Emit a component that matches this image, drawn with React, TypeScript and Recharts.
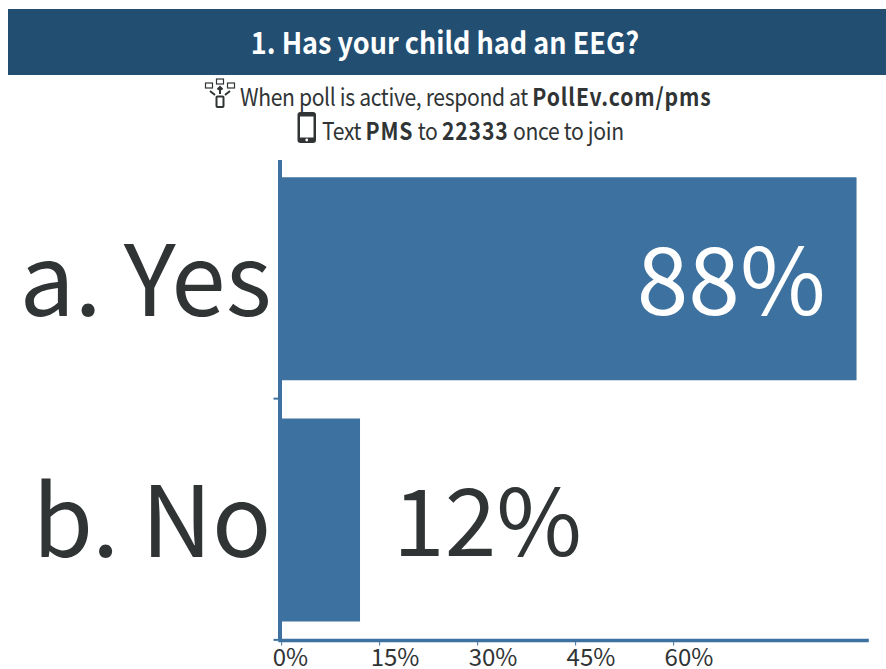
import { Bar, BarChart, LabelList, XAxis, YAxis } from "recharts";

const AXIS_BLUE = "#3d72a0";
const HEADER_BLUE = "#224e72";
const INK = "#303435";
const FONT = '"Noto Sans CJK SC", "Noto Sans", sans-serif';

const answers = ["a. Yes", "b. No"];
const shares = [88, 12];
const percentTicks = [0, 15, 30, 45, 60];

const rows = answers.map((answer, i) => ({ answer, share: shares[i] }));

const BAND = 240;

function AnswerTick({ x, y, payload }: any) {
  return (
    <g>
      <line x1={x - 2} x2={x - 6.5} y1={y + BAND / 2} y2={y + BAND / 2} stroke={AXIS_BLUE} strokeWidth={2} />
      <text x={271.5} y={y + 37} textAnchor="end" fontFamily={FONT} fontSize={98} fill={INK}>
        {payload.value}
      </text>
    </g>
  );
}

function PercentTick({ x, y, payload }: any) {
  return (
    <text x={x - 9} y={y + 18} textAnchor="start" fontFamily={FONT} fontSize={24} fill={INK}>
      {payload.value}%
    </text>
  );
}

// Big share figure: inside the bar when it fits, otherwise just past its end
function ShareLabel({ x, y, width, height, value }: any) {
  const inside = value > 50;
  return (
    <text
      x={inside ? x + width - 31 : x + width + 33}
      y={y + height / 2 + 36}
      textAnchor={inside ? "end" : "start"}
      fontFamily={FONT}
      fontSize={93}
      fill={inside ? "#ffffff" : INK}
    >
      {value}%
    </text>
  );
}

function PollIcon() {
  return (
    <svg width={32} height={30} viewBox="0 0 32 30" style={{ position: "absolute", left: 204, top: 78 }}>
      <g fill="none" stroke={INK} strokeWidth={1.2}>
        <rect x={1.5} y={5} width={7} height={5} />
        <rect x={12.5} y={1} width={7} height={5} />
        <rect x={23.5} y={5} width={7} height={5} />
      </g>
      <rect x={12.5} y={18.5} width={7} height={10.5} rx={1} fill="none" stroke={INK} strokeWidth={2} />
      <path d="M16 9v7M13.5 11.5l2.5-2.5 2.5 2.5M6 13l5 4M26 13l-5 4" fill="none" stroke={INK} strokeWidth={2} />
    </svg>
  );
}

function PhoneIcon() {
  return (
    <svg width={20} height={31} viewBox="0 0 20 31" style={{ position: "absolute", left: 296.5, top: 112 }}>
      <rect x={0.5} y={0} width={18.5} height={31} rx={3} fill={INK} />
      <rect x={3} y={4.5} width={13.5} height={21} fill="#fff" />
      <circle cx={9.75} cy={28} r={1.4} fill="#fff" />
    </svg>
  );
}

// The poll instructions are set in a slightly condensed width
const instructionLine = {
  position: "absolute",
  whiteSpace: "nowrap",
  fontFamily: FONT,
  fontSize: 24,
  lineHeight: "30px",
  letterSpacing: -0.4,
  color: INK,
  transform: "scaleX(0.88)",
  transformOrigin: "left center",
} as const;

const strongWord = { letterSpacing: 1 };

export default function App() {
  return (
    <div style={{ position: "absolute", left: 0, top: 0, width: 886, height: 669, overflow: "hidden", background: "#fff" }}>
      <div
        style={{
          position: "absolute",
          left: 8,
          top: 9,
          width: 878,
          height: 66,
          background: HEADER_BLUE,
          color: "#fff",
          fontFamily: FONT,
          fontWeight: 700,
          fontSize: 30,
          lineHeight: "64px",
          textAlign: "center",
        }}
      >
        <div style={{ transform: "scaleX(0.9)", marginLeft: -4 }}>1. Has your child had an EEG?</div>
      </div>
      <PollIcon />
      <div style={{ ...instructionLine, left: 240, top: 81 }}>
        When poll is active, respond at <b style={strongWord}>PollEv.com/pms</b>
      </div>
      <PhoneIcon />
      <div style={{ ...instructionLine, left: 322, top: 115 }}>
        Text <b style={strongWord}>PMS</b> to <b style={strongWord}>22333</b> once to join
      </div>
      <div style={{ position: "absolute", left: 0, top: 0 }}>
        <BarChart
          width={886}
          height={669}
          data={rows}
          layout="vertical"
          barCategoryGap="8%"
          margin={{ top: 158, right: 19, bottom: 0, left: 0 }}
        >
          <XAxis
            type="number"
            domain={[-0.25, 89.6]}
            ticks={percentTicks}
            height={28.5}
            allowDataOverflow
            axisLine={{ stroke: AXIS_BLUE, strokeWidth: 3.6, strokeLinecap: "square" }}
            tickLine={{ stroke: AXIS_BLUE, strokeWidth: 1 }}
            tickSize={5}
            tick={<PercentTick />}
          />
          <YAxis
            type="category"
            dataKey="answer"
            width={280}
            axisLine={{ stroke: AXIS_BLUE, strokeWidth: 4, strokeDasharray: "0 2 999" }}
            tickLine={false}
            tickSize={0}
            tickMargin={0}
            tick={<AnswerTick />}
          />
          <Bar dataKey="share" fill={AXIS_BLUE} isAnimationActive={false}>
            <LabelList dataKey="share" content={<ShareLabel />} />
          </Bar>
        </BarChart>
      </div>
    </div>
  );
}
